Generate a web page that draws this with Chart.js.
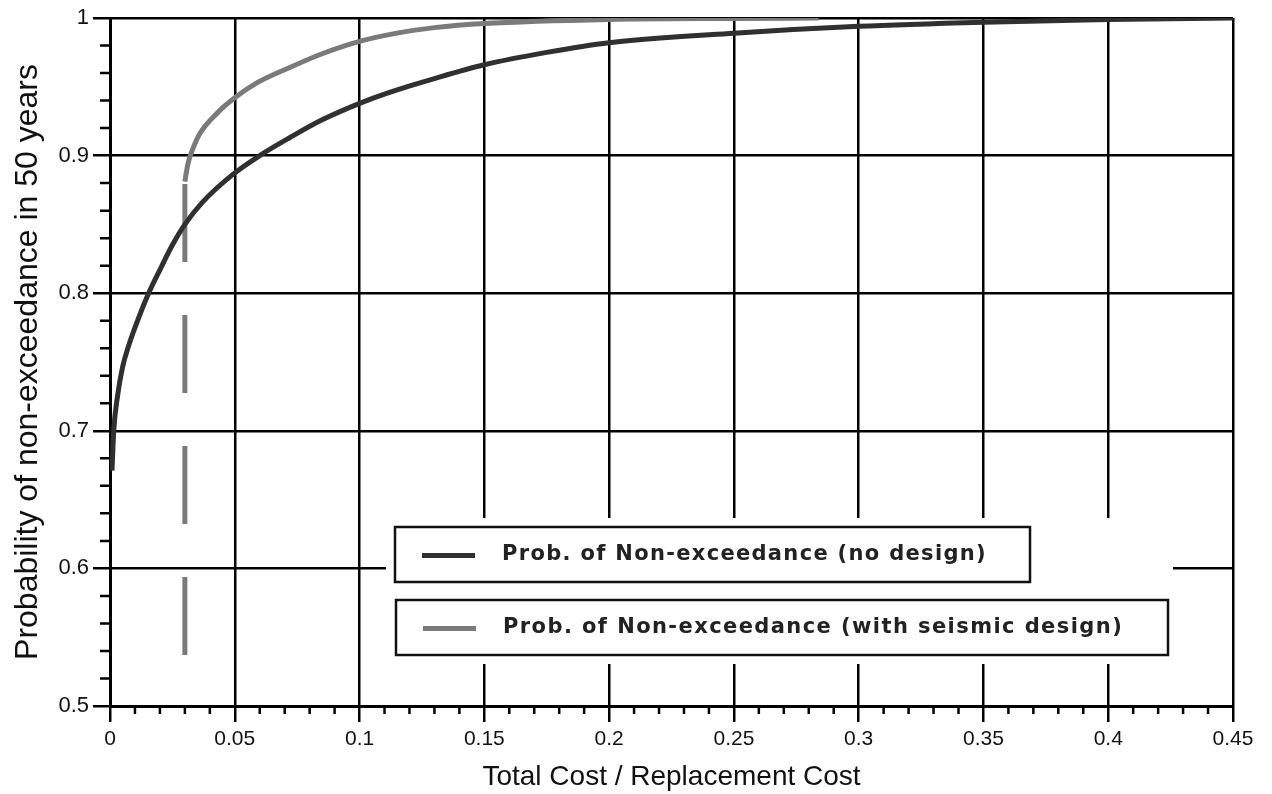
<!DOCTYPE html>
<html>
<head>
<meta charset="utf-8">
<script src="https://cdn.jsdelivr.net/npm/chart.js@4/dist/chart.umd.min.js"></script>
<style>
  html, body { margin: 0; padding: 0; background: #fff; }
  #wrap { width: 1272px; height: 794px; }
</style>
</head>
<body>
<div id="wrap"><canvas id="costChart" width="1272" height="794"></canvas></div>
<script>
// curve without seismic design
var noDesignX = [0.0008, 0.0015, 0.003, 0.005, 0.0075, 0.01, 0.015, 0.02, 0.025, 0.03, 0.037, 0.049, 0.06, 0.072, 0.085, 0.1, 0.112, 0.13, 0.15, 0.175, 0.2, 0.25, 0.3, 0.35, 0.4, 0.45];
var noDesignY = [0.671, 0.70, 0.725, 0.746, 0.762, 0.775, 0.798, 0.817, 0.835, 0.85, 0.866, 0.886, 0.90, 0.913, 0.926, 0.938, 0.946, 0.956, 0.966, 0.975, 0.982, 0.989, 0.994, 0.997, 0.999, 1.0];

// curve with seismic design
var seismicX = [0.03, 0.0305, 0.0315, 0.033, 0.036, 0.043, 0.05, 0.059, 0.072, 0.085, 0.1, 0.115, 0.13, 0.15, 0.2, 0.25, 0.284];
var seismicY = [0.881, 0.887, 0.896, 0.904, 0.916, 0.931, 0.942, 0.953, 0.964, 0.974, 0.983, 0.989, 0.993, 0.996, 0.999, 0.9997, 1.0];

// dashed drop at the design cost
var dropX = [0.03, 0.03];
var dropY = [0.537, 0.881];

var xTicks = [0, 0.05, 0.1, 0.15, 0.2, 0.25, 0.3, 0.35, 0.4, 0.45];
var xTickLabels = ['0', '0.05', '0.1', '0.15', '0.2', '0.25', '0.3', '0.35', '0.4', '0.45'];
var yTicks = [0.5, 0.6, 0.7, 0.8, 0.9, 1];
var yTickLabels = ['0.5', '0.6', '0.7', '0.8', '0.9', '1'];

var legendLabels = ['Prob. of Non-exceedance (no design)', 'Prob. of Non-exceedance (with seismic design)'];

function pts(xs, ys) {
  return xs.map(function(x, i) { return { x: x, y: ys[i] }; });
}

var darkCol = '#303030';
var grayCol = '#7a7a7a';

// minor ticks outside the axes
var minorTicks = {
  id: 'minorTicks',
  afterDraw: function(chart) {
    var ctx = chart.ctx, xs = chart.scales.x, ys = chart.scales.y;
    ctx.save();
    ctx.strokeStyle = '#000';
    ctx.lineWidth = 2.5;
    ctx.beginPath();
    for (var i = 1; i < 45; i++) {
      if (i % 5 === 0) continue;
      var px = xs.getPixelForValue(i / 100);
      ctx.moveTo(px, ys.bottom);
      ctx.lineTo(px, ys.bottom + 8);
    }
    for (var j = 1; j < 25; j++) {
      if (j % 5 === 0) continue;
      var py = ys.getPixelForValue(0.5 + j * 0.02);
      ctx.moveTo(xs.left, py);
      ctx.lineTo(xs.left - 10, py);
    }
    ctx.stroke();
    ctx.restore();
  }
};

// boxed legend sitting on a white patch over the grid
var boxLegend = {
  id: 'boxLegend',
  afterDraw: function(chart) {
    var ctx = chart.ctx;
    var dsets = chart.data.datasets;
    ctx.save();
    ctx.fillStyle = '#fff';
    ctx.fillRect(386, 518, 787, 146);
    var boxes = [
      { x: 395, y: 527, w: 635, h: 55, color: dsets[0].borderColor, text: legendLabels[0], width: 485 },
      { x: 396, y: 600, w: 772, h: 55, color: dsets[1].borderColor, text: legendLabels[1], width: 620 }
    ];
    boxes.forEach(function(b) {
      ctx.fillStyle = '#fff';
      ctx.fillRect(b.x, b.y, b.w, b.h);
      ctx.strokeStyle = '#111';
      ctx.lineWidth = 2.5;
      ctx.strokeRect(b.x, b.y, b.w, b.h);
      var cy = b.y + b.h / 2;
      ctx.strokeStyle = b.color;
      ctx.lineWidth = 5;
      ctx.beginPath();
      ctx.moveTo(b.x + 27, cy + 1);
      ctx.lineTo(b.x + 80, cy + 1);
      ctx.stroke();
      ctx.fillStyle = '#222';
      ctx.font = 'bold 21px "DejaVu Sans", sans-serif';
      ctx.letterSpacing = '0px';
      var w = ctx.measureText(b.text).width;
      var sp = (b.width - w) / b.text.length;
      ctx.letterSpacing = sp.toFixed(2) + 'px';
      ctx.textBaseline = 'middle';
      ctx.textAlign = 'left';
      ctx.fillText(b.text, b.x + 107, cy);
    });
    ctx.restore();
  }
};

var chart = new Chart(document.getElementById('costChart'), {
  type: 'line',
  data: {
    datasets: [
      {
        label: legendLabels[0],
        data: pts(noDesignX, noDesignY),
        borderColor: darkCol,
        borderWidth: 5,
        pointRadius: 0,
        cubicInterpolationMode: 'monotone',
        fill: false
      },
      {
        label: legendLabels[1],
        data: pts(seismicX, seismicY),
        borderColor: grayCol,
        borderWidth: 5,
        pointRadius: 0,
        cubicInterpolationMode: 'monotone',
        fill: false
      },
      {
        label: 'drop',
        data: pts(dropX, dropY),
        borderColor: grayCol,
        borderWidth: 5,
        borderDash: [78, 53],
        borderCapStyle: 'butt',
        pointRadius: 0,
        fill: false
      }
    ]
  },
  options: {
    responsive: false,
    animation: false,
    layout: { padding: { left: 11, top: 18, right: 39, bottom: 0 } },
    plugins: {
      legend: { display: false },
      tooltip: { enabled: false }
    },
    scales: {
      x: {
        type: 'linear',
        min: 0,
        max: 0.45,
        afterBuildTicks: function(scale) {
          scale.ticks = xTicks.map(function(v) { return { value: v }; });
        },
        afterFit: function(scale) { scale.height = 88; },
        grid: { color: '#000', lineWidth: 2.5, tickLength: 16, tickColor: '#000', tickWidth: 2.5 },
        border: { color: '#000', width: 3 },
        ticks: {
          color: '#111',
          padding: 5,
          maxRotation: 0,
          font: { family: '"Liberation Sans", Arial, sans-serif', size: 21 },
          callback: function(v) { return xTickLabels[xTicks.indexOf(v)]; }
        },
        title: {
          display: true,
          text: 'Total Cost / Replacement Cost',
          color: '#111',
          padding: 0,
          font: { family: '"Liberation Sans", Arial, sans-serif', size: 28, lineHeight: 1.2 }
        }
      },
      y: {
        type: 'linear',
        min: 0.5,
        max: 1,
        afterBuildTicks: function(scale) {
          scale.ticks = yTicks.map(function(v) { return { value: v }; });
        },
        afterFit: function(scale) { scale.width = 99; },
        grid: { color: '#000', lineWidth: 2.5, tickLength: 17, tickColor: '#000', tickWidth: 2.5 },
        border: { color: '#000', width: 3 },
        ticks: {
          color: '#111',
          padding: 4,
          font: { family: '"Liberation Sans", Arial, sans-serif', size: 22 },
          callback: function(v) { return yTickLabels[yTicks.indexOf(v)]; }
        },
        title: {
          display: true,
          text: 'Probability of non-exceedance in 50 years',
          color: '#111',
          padding: 0,
          font: { family: '"Liberation Sans", Arial, sans-serif', size: 32, lineHeight: 1.1 }
        }
      }
    }
  },
  plugins: [minorTicks, boxLegend]
});
</script>
</body>
</html>
